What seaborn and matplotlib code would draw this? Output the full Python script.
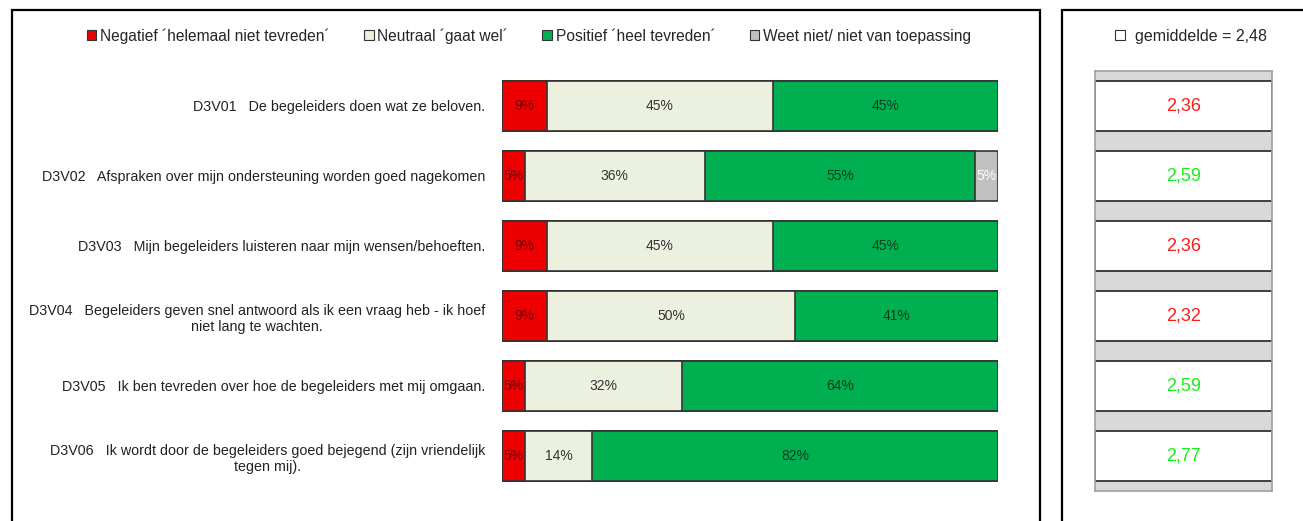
import numpy as np
import pandas as pd
import matplotlib
matplotlib.use("Agg")
import matplotlib.pyplot as plt
import matplotlib.patches as mpatches
import seaborn as sns

# data (n = 22, percentages per answer category)
questions = ["D3V01   De begeleiders doen wat ze beloven.",
             "D3V02   Afspraken over mijn ondersteuning worden goed nagekomen",
             "D3V03   Mijn begeleiders luisteren naar mijn wensen/behoeften.",
             "D3V04   Begeleiders geven snel antwoord als ik een vraag heb - ik hoef\nniet lang te wachten.",
             "D3V05   Ik ben tevreden over hoe de begeleiders met mij omgaan.",
             "D3V06   Ik wordt door de begeleiders goed bejegend (zijn vriendelijk\ntegen mij)."]
categories = ["Negatief \u00b4helemaal niet tevreden\u00b4", "Neutraal \u00b4gaat wel\u00b4",
              "Positief \u00b4heel tevreden\u00b4", "Weet niet/ niet van toepassing"]
negatief = [9.09, 4.55, 9.09, 9.09, 4.55, 4.55]
neutraal = [45.45, 36.36, 45.45, 50.0, 31.82, 13.64]
positief = [45.45, 54.55, 45.45, 40.91, 63.64, 81.82]
weet_niet = [0.0, 4.55, 0.0, 0.0, 0.0, 0.0]
gemiddelden = [2.36, 2.59, 2.36, 2.32, 2.59, 2.77]
totaal_gemiddelde = 2.48

colors = ["#ee0000", "#ebf1de", "#00b050", "#c0c0c0"]
text_colors = ["#6a0000", "#333333", "#0f3d1f", "#ffffff"]

sns.set_theme(style="white")
plt.rcParams['font.family'] = ['Liberation Sans', 'DejaVu Sans']

series = [negatief, neutraal, positief, weet_niet]
cum = np.cumsum(np.array(series), axis=0)

fig = plt.figure(figsize=(13.03, 5.21), dpi=100)
W, H = 1303, 521

# panel frames
fig.patches.append(mpatches.Rectangle((12 / W, -0.1), (1040 - 12) / W, 1.1 - 10 / H,
                                      transform=fig.transFigure, fill=False,
                                      edgecolor="black", linewidth=1.6))
fig.patches.append(mpatches.Rectangle((1062 / W, -0.1), 0.5, 1.1 - 10 / H,
                                      transform=fig.transFigure, fill=False,
                                      edgecolor="black", linewidth=1.6))

ax = fig.add_axes([502 / W, 30 / H, 496 / W, 420 / H])
bar_h = 50 / 70
# layered cumulative bars, widest first
for k in range(3, -1, -1):
    d = pd.DataFrame({"vraag": questions, "cum": cum[k]})
    sns.barplot(data=d, x="cum", y="vraag", orient="h", color=colors[k],
                saturation=1, width=bar_h, edgecolor="#333333", linewidth=1.2, ax=ax)

for k in range(4):
    for i, v in enumerate(series[k]):
        if v <= 0:
            continue
        center = cum[k][i] - v / 2
        ax.text(center, i, f"{v:.0f}%", ha="center", va="center",
                fontsize=10, color=text_colors[k])

ax.set_xlim(0, 100)
ax.set_ylim(5.5, -0.5)
ax.set_xlabel("")
ax.set_ylabel("")
ax.set_xticks([])
ax.set_yticks(range(len(questions)))
ax.set_yticklabels(questions, fontsize=10.3, multialignment="center", color="#222222",
                   linespacing=1.2)
ax.tick_params(axis="y", length=0, pad=12)
sns.despine(ax=ax, left=True, bottom=True)

handles = [mpatches.Patch(facecolor=c, edgecolor="#333333", linewidth=0.8) for c in colors]
fig.legend(handles, categories, loc="center", bbox_to_anchor=(529 / W, 1 - 36 / H),
           ncol=4, frameon=False, fontsize=11.2, handlelength=0.6, handleheight=0.6,
           handletextpad=0.25, columnspacing=2.2)

# right panel: averages
ax2 = fig.add_axes([1095 / W, 30 / H, 177 / W, 420 / H])
ax2.set_facecolor("#d9d9d9")
d2 = pd.DataFrame({"vraag": questions, "vol": [1.0] * len(questions)})
sns.barplot(data=d2, x="vol", y="vraag", orient="h", color="white", saturation=1,
            width=bar_h, edgecolor="#222222", linewidth=1.2, ax=ax2)
for i, g in enumerate(gemiddelden):
    col = "#ff1a1a" if g < totaal_gemiddelde else "#1aee1a"
    ax2.text(0.5, i, f"{g:.2f}".replace(".", ","), ha="center", va="center",
             fontsize=13, color=col)
ax2.set_xlim(0, 1)
ax2.set_ylim(5.5, -0.5)
ax2.set_xticks([])
ax2.set_yticks([])
ax2.set_xlabel("")
ax2.set_ylabel("")
for s in ax2.spines.values():
    s.set_visible(True)
    s.set_color("#a0a0a0")
    s.set_linewidth(1.2)

fig.legend([mpatches.Patch(facecolor="white", edgecolor="#333333", linewidth=0.8)],
           ["gemiddelde = " + f"{totaal_gemiddelde:.2f}".replace(".", ",")],
           loc="center", bbox_to_anchor=(1191 / W, 1 - 36 / H), frameon=False,
           fontsize=11.5, handlelength=0.6, handleheight=0.6, handletextpad=0.6)

fig.savefig("out.png", dpi=100, facecolor="white")
